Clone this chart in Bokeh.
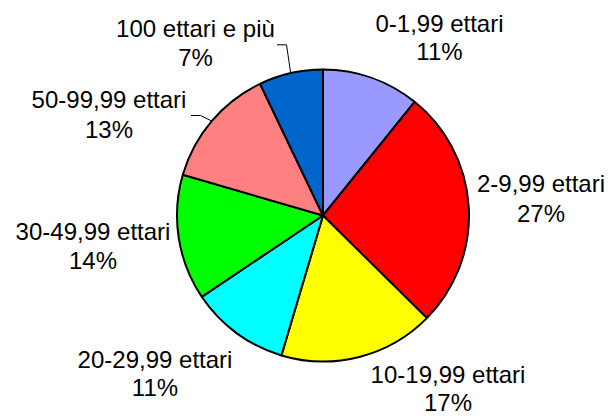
import math
from bokeh.plotting import figure
from bokeh.models import Range1d, ColumnDataSource
from bokeh.core.properties import value
from bokeh.embed import file_html
from bokeh.resources import INLINE

# ---- data ----
categories = ["0-1,99 ettari", "2-9,99 ettari", "10-19,99 ettari", "20-29,99 ettari",
              "30-49,99 ettari", "50-99,99 ettari", "100 ettari e più"]
shares = [10.8, 26.6, 17.2, 11.0, 13.9, 13.4, 7.1]
pct_labels = [f"{v:.0f}%" for v in shares]
colors = ["#9999FF", "#FF0000", "#FFFF00", "#00FFFF", "#00FF00", "#FF8080", "#0066CC"]

# ---- layout (screen pixel coords of the 610x418 page) ----
W, H = 610, 418
def sy(y):
    return H - y

cx, cy, R = 322.5, sy(215), 146
TXT = -9  # renderer baseline correction
label_x = [439, 540.5, 447.5, 154.5, 92.5, 108.5, 195]
label_base1 = [31.5, 191.5, 383, 368, 240, 108, 36.5]
label_base2 = [59.5, 222, 410.5, 396, 269, 138, 66]

total = sum(shares)
starts, ends, mids = [], [], []
acc = 0.0
for v in shares:
    a0 = math.pi / 2 - 2 * math.pi * acc / total
    acc += v
    a1 = math.pi / 2 - 2 * math.pi * acc / total
    starts.append(a0)
    ends.append(a1)
    mids.append((a0 + a1) / 2)

p = figure(width=W, height=H, output_backend="svg", toolbar_location=None,
           x_range=Range1d(0, W), y_range=Range1d(0, H), min_border=0)
p.axis.visible = False
p.grid.visible = False
p.outline_line_color = None
p.background_fill_color = "white"
p.border_fill_color = "white"

src = ColumnDataSource(dict(start=starts, end=ends, color=colors))
p.wedge(x=cx, y=cy, radius=R, start_angle="start", end_angle="end", direction="clock",
        fill_color="color", line_color="black", line_width=2, source=src)

# leader lines for the two small top-left slices
for i, (ex, ey) in [(6, (286, 44.3)), (5, (200, 115))]:
    px = cx + R * math.cos(mids[i])
    py = cy + R * math.sin(mids[i])
    p.line([px, ex, ex - 9.5], [py, sy(ey), sy(ey)], line_color="black", line_width=1)

font = value("Liberation Sans")
p.text(x=label_x, y=[sy(v + TXT) for v in label_base1], text=categories, text_font=font,
       text_font_size="24px", text_align="center", text_baseline="alphabetic",
       text_color="black")
p.text(x=label_x, y=[sy(v + TXT) for v in label_base2], text=pct_labels, text_font=font,
       text_font_size="24px", text_align="center", text_baseline="alphabetic",
       text_color="black")

open("out.html", "w").write(file_html(p, INLINE))
